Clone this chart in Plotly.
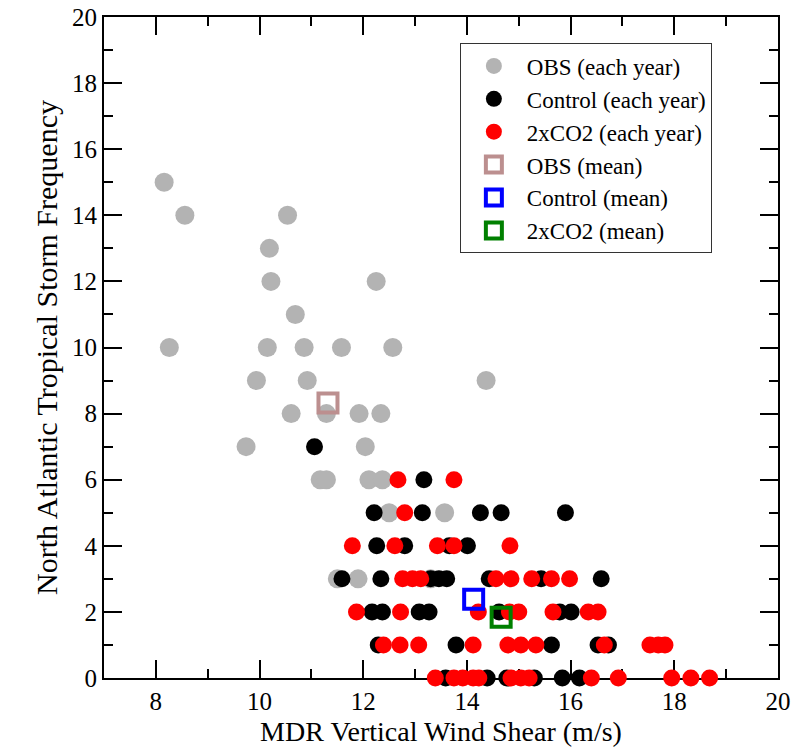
import plotly.graph_objects as go

# Observed seasons: (shear m/s, storm count)
obs_x = [8.16, 8.56, 10.54, 10.19, 10.22, 12.25, 10.69,
         8.26, 10.15, 10.86, 11.58, 12.57,
         9.94, 10.92, 14.37,
         10.61, 11.29, 11.92, 12.34,
         9.74, 12.04,
         11.17, 11.29, 12.11, 12.37,
         12.50, 13.57,
         11.50, 11.90, 13.30]
obs_y = [15, 14, 14, 13, 12, 12, 11,
         10, 10, 10, 10, 10,
         9, 9, 9,
         8, 8, 8, 8,
         7, 7,
         6, 6, 6, 6,
         5, 5,
         3, 3, 3]

# Control run years
ctl_x = [11.06,
         13.17,
         12.21, 13.14, 14.26, 14.66, 15.90,
         12.26, 12.80, 13.66, 14.01,
         11.59, 12.34, 13.30, 13.46, 13.61, 14.43, 15.43, 16.59,
         12.17, 12.37, 13.08, 13.27, 14.62, 15.79, 16.01,
         12.29, 13.79, 15.63, 16.53, 16.73,
         13.59, 14.39, 14.77, 15.30, 15.84, 16.17]
ctl_y = [7,
         6,
         5, 5, 5, 5, 5,
         4, 4, 4, 4,
         3, 3, 3, 3, 3, 3, 3, 3,
         2, 2, 2, 2, 2, 2, 2,
         1, 1, 1, 1, 1,
         0, 0, 0, 0, 0, 0]

# Doubled-CO2 run years
co2_x = [12.67, 13.75,
         12.80,
         11.79, 12.61, 13.43, 13.75, 14.83,
         12.76, 12.95, 13.11, 14.56, 14.85, 15.25, 15.63, 15.98,
         11.87, 12.72, 14.22, 14.82, 15.00, 15.66, 16.34, 16.53,
         12.39, 12.71, 13.07, 14.12, 14.79, 15.04, 15.33, 16.65, 17.53, 17.69, 17.82,
         13.39, 13.75, 13.92, 14.12, 14.23, 14.85, 15.04, 15.20, 16.40, 16.92, 17.95, 18.32, 18.68]
co2_y = [6, 6,
         5,
         4, 4, 4, 4, 4,
         3, 3, 3, 3, 3, 3, 3, 3,
         2, 2, 2, 2, 2, 2, 2, 2,
         1, 1, 1, 1, 1, 1, 1, 1, 1, 1, 1,
         0, 0, 0, 0, 0, 0, 0, 0, 0, 0, 0, 0, 0]

# Means of each set
mean_names = ["OBS (mean)", "Control (mean)", "2xCO2 (mean)"]
mean_x = [11.32, 14.13, 14.66]
mean_y = [8.32, 2.38, 1.84]
mean_colors = ["#bc8f8f", "#0000ff", "#008000"]

x_ticks = [8, 10, 12, 14, 16, 18, 20]
y_ticks = [0, 2, 4, 6, 8, 10, 12, 14, 16, 18, 20]

SERIF = "Times New Roman, Liberation Serif, serif"

fig = go.Figure()

fig.add_trace(go.Scatter(x=obs_x, y=obs_y, mode="markers", name="OBS (each year)",
                         marker=dict(color="#b3b3b3", size=19), cliponaxis=False))
fig.add_trace(go.Scatter(x=ctl_x, y=ctl_y, mode="markers", name="Control (each year)",
                         marker=dict(color="#000000", size=17), cliponaxis=False))
fig.add_trace(go.Scatter(x=co2_x, y=co2_y, mode="markers", name="2xCO2 (each year)",
                         marker=dict(color="#ff0000", size=17), cliponaxis=False))

for nm, mx, my, col in zip(mean_names, mean_x, mean_y, mean_colors):
    fig.add_trace(go.Scatter(x=[mx], y=[my], mode="markers", name=nm,
                             marker=dict(symbol="square-open", size=19,
                                         color=col, line=dict(color=col, width=4)),
                             cliponaxis=False))

axis_common = dict(
    showline=True, linecolor="black", linewidth=2, mirror="ticks",
    ticks="inside", ticklen=18, tickwidth=1.5, tickcolor="black",
    showgrid=False, zeroline=False, layer="below traces", automargin=False,
    tickfont=dict(family=SERIF, size=25, color="black"),
    minor=dict(dtick=1, ticks="inside", ticklen=9, tickwidth=1.5, tickcolor="black", showgrid=False),
)

fig.update_layout(
    width=805, height=747,
    margin=dict(l=104, r=27, t=17, b=69),
    plot_bgcolor="white", paper_bgcolor="white",
    font=dict(family=SERIF, color="black"),
    xaxis=dict(range=[7, 20], tickvals=x_ticks,
               title=dict(text="MDR Vertical Wind Shear (m/s)",
                          font=dict(family=SERIF, size=28), standoff=12),
               **axis_common),
    yaxis=dict(range=[0, 20], tickvals=y_ticks,
               title=dict(text="North Atlantic Tropical Storm Frequency",
                          font=dict(family=SERIF, size=30), standoff=6),
               **axis_common),
    legend=dict(x=0.528, y=0.96, xanchor="left", yanchor="top",
                bgcolor="white", bordercolor="#333333", borderwidth=1,
                font=dict(family=SERIF, size=23, color="black"),
                itemwidth=56),
    showlegend=True,
)

fig.write_html("out.html")
